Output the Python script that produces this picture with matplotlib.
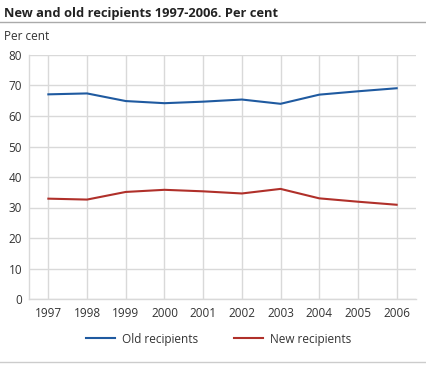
import matplotlib
matplotlib.use('Agg')
import matplotlib.pyplot as plt
from matplotlib.lines import Line2D

years = [1997, 1998, 1999, 2000, 2001, 2002, 2003, 2004, 2005, 2006]
old_recipients = [67.1, 67.4, 64.9, 64.2, 64.7, 65.4, 64.0, 67.0, 68.1, 69.1]
new_recipients = [32.9, 32.6, 35.1, 35.8, 35.3, 34.6, 36.1, 33.0, 31.9, 30.9]
yticks = [0, 10, 20, 30, 40, 50, 60, 70, 80]

plt.rcParams['font.family'] = ['Open Sans', 'DejaVu Sans']
text_col = '#333333'
grid_col = '#d9d9d9'

fig = plt.figure(figsize=(4.26, 3.65), dpi=100)
W, H = 426, 365

# plot area in pixels: x 29..416, y 55..299
ax = fig.add_axes([29 / W, 1 - 299 / H, (416 - 29) / W, (299 - 55) / H])
ax.plot(years, old_recipients, color='#1f5aa0', lw=1.5, label='Old recipients')
ax.plot(years, new_recipients, color='#b0302a', lw=1.5, label='New recipients')

ax.set_xlim(1996.5, 2006.5)
ax.set_ylim(0, 80)
ax.set_xticks(years)
ax.set_yticks(yticks)
ax.tick_params(length=0, labelsize=8.5, colors=text_col, pad=6)
ax.tick_params(axis='y', pad=5)
ax.grid(True, color=grid_col, lw=1)
ax.set_axisbelow(True)
for s in ['top', 'right']:
    ax.spines[s].set_visible(False)
for s in ['left', 'bottom']:
    ax.spines[s].set_color(grid_col)
    ax.spines[s].set_linewidth(1)

# title and separator lines
fig.text(4 / W, 1 - 7 / H, 'New and old recipients 1997-2006. Per cent',
         fontsize=9.3, fontweight='bold', color='#222222', va='top', ha='left')
fig.add_artist(Line2D([0, 1], [1 - 21.5 / H] * 2, color='#aaaaaa', lw=1))
fig.add_artist(Line2D([0, 1], [1 - 362 / H] * 2, color='#cccccc', lw=1))
fig.text(4 / W, 1 - 36 / H, 'Per cent', fontsize=8.5, color=text_col,
         va='center', ha='left')

ax.legend(loc='center', bbox_to_anchor=(0.49, -0.164), ncol=2,
          frameon=False, fontsize=8.5, handlelength=2.5, handletextpad=0.6,
          columnspacing=3.0, labelcolor=text_col)

fig.savefig('out.png', dpi=100)
